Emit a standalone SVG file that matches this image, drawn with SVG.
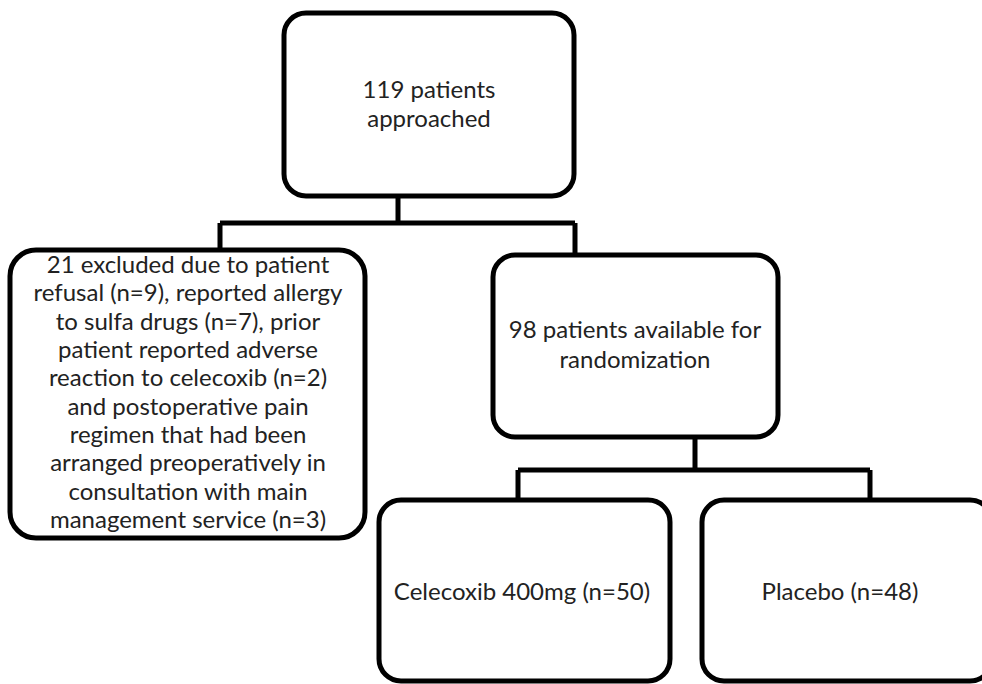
<svg xmlns="http://www.w3.org/2000/svg" width="982" height="684" viewBox="0 0 982 684">
<style>
.box{fill:#fff;stroke:#000;stroke-width:5}
.t{font-family:Lato,"Liberation Sans",sans-serif;font-size:24px;fill:#222;text-anchor:middle}
.c{fill:none;stroke:#000;stroke-width:5;stroke-linejoin:miter}
</style>
<rect width="982" height="684" fill="#fff"/>
<g id="connectors">
<path class="c" d="M398 196 V223 M220 223 H575 M220 223 V250 M575 223 V255"/>
<path class="c" d="M695 437 V470 M518 470 H870 M518 470 V500 M870 470 V500"/>
</g>
<g id="n1">
<rect class="box" x="284" y="13" width="290" height="183" rx="22"/>
<text class="t" x="429" y="98">119 patients</text>
<text class="t" x="429" y="127">approached</text>
</g>
<g id="n2">
<rect class="box" x="10" y="250" width="355" height="288" rx="26"/>
<text class="t" x="188" y="273">21 excluded due to patient</text>
<text class="t" x="188" y="301.3">refusal (n=9), reported allergy</text>
<text class="t" x="188" y="329.7">to sulfa drugs (n=7), prior</text>
<text class="t" x="188" y="358">patient reported adverse</text>
<text class="t" x="188" y="386.3">reaction to celecoxib  (n=2)</text>
<text class="t" x="188" y="414.7">and postoperative pain</text>
<text class="t" x="188" y="443">regimen that had been</text>
<text class="t" x="188" y="471.3">arranged preoperatively in</text>
<text class="t" x="188" y="499.7">consultation with main</text>
<text class="t" x="188" y="528">management service (n=3)</text>
</g>
<g id="n3">
<rect class="box" x="493" y="255" width="285" height="182" rx="22"/>
<text class="t" x="635" y="338">98 patients available for</text>
<text class="t" x="635" y="368">randomization</text>
</g>
<g id="n4">
<rect class="box" x="379" y="500" width="291" height="181" rx="22"/>
<text class="t" x="522" y="600">Celecoxib 400mg (n=50)</text>
</g>
<g id="n5">
<rect class="box" x="702" y="500" width="290" height="181" rx="22"/>
<text class="t" x="840" y="600">Placebo (n=48)</text>
</g>
</svg>
